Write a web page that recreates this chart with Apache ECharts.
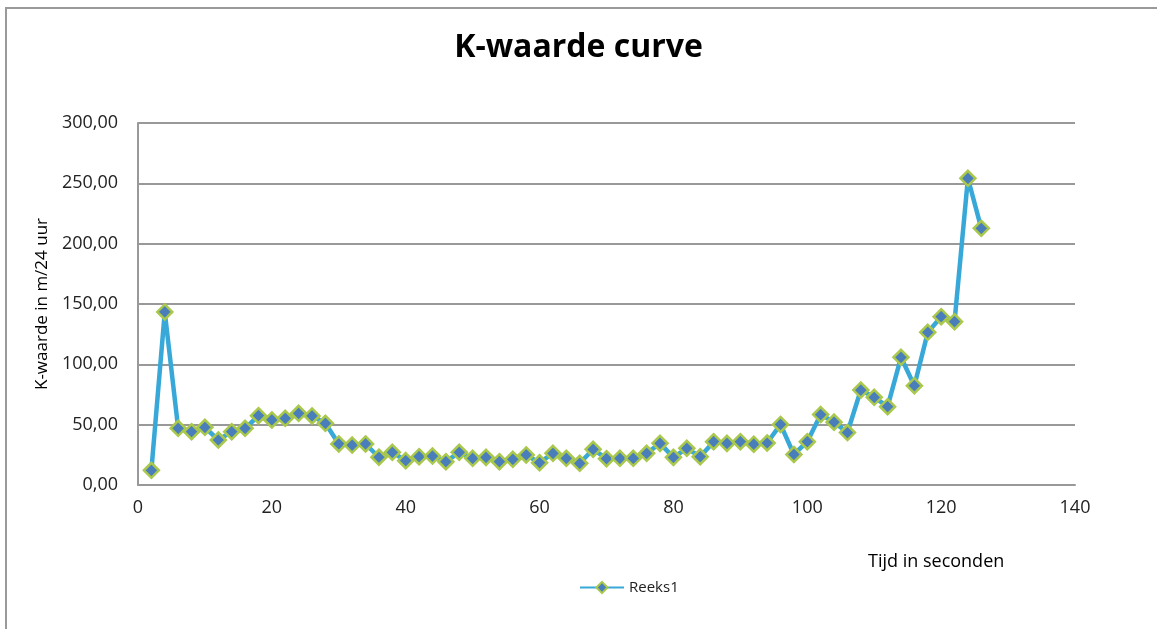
<!DOCTYPE html>
<html>
<head>
<meta charset="utf-8">
<script src="https://cdn.jsdelivr.net/npm/echarts@6/dist/echarts.min.js"></script>
<style>
  html, body { margin: 0; padding: 0; background: #fff; }
  #chart { width: 1157px; height: 629px; }
</style>
</head>
<body>
<div id="chart"></div>
<script>
// time in seconds
var tijd = [2, 4, 6, 8, 10, 12, 14, 16, 18, 20, 22, 24, 26, 28, 30, 32, 34, 36, 38, 40,
  42, 44, 46, 48, 50, 52, 54, 56, 58, 60, 62, 64, 66, 68, 70, 72, 74, 76, 78, 80,
  82, 84, 86, 88, 90, 92, 94, 96, 98, 100, 102, 104, 106, 108, 110, 112, 114, 116, 118, 120,
  122, 124, 126];
// K-waarde in m/24 uur
var kwaarde = [12.2, 143.4, 47.0, 44.2, 47.8, 37.3, 44.2, 47.0, 57.4, 53.9,
  55.3, 59.4, 57.2, 51.1, 34.0, 33.1, 34.0, 23.0, 27.1, 20.2,
  23.5, 24.0, 19.3, 27.1, 22.1, 22.9, 19.3, 21.3, 24.9, 18.5,
  26.3, 22.1, 18.0, 29.6, 21.8, 22.1, 22.1, 26.3, 34.5, 22.9,
  30.4, 23.5, 35.9, 34.5, 35.9, 33.8, 34.8, 50.2, 25.3, 35.9,
  58.4, 52.1, 43.5, 78.7, 72.7, 64.9, 105.8, 82.3, 126.5, 139.5,
  135.3, 254.2, 212.7];

var chart = echarts.init(document.getElementById('chart'));

var option = {
  backgroundColor: '#fff',
  animation: false,
  textStyle: { fontFamily: 'Open Sans' },
  title: {
    text: 'K-waarde curve',
    left: 'center',
    top: 27,
    textStyle: { fontSize: 32, fontWeight: 'bold', color: '#000', fontFamily: 'Open Sans' }
  },
  graphic: [
    {
      type: 'rect',
      silent: true,
      shape: { x: 6, y: 8, width: 1300, height: 800 },
      style: { fill: 'none', stroke: '#9a9a9a', lineWidth: 2 }
    },
    {
      type: 'text',
      left: 868,
      top: 553,
      style: { text: 'Tijd in seconden', fontSize: 18, fill: '#000', fontFamily: 'Open Sans' }
    }
  ],
  legend: {
    left: 574,
    top: 575,
    itemWidth: 44,
    itemHeight: 14,
    itemGap: 4,
    textStyle: { fontSize: 15, color: '#222', fontFamily: 'Open Sans' },
    data: ['Reeks1']
  },
  grid: {
    left: 138,
    right: 82,
    top: 123,
    bottom: 144,
    containLabel: false
  },
  xAxis: {
    type: 'value',
    min: 0,
    max: 140,
    interval: 20,
    axisLine: { show: true, lineStyle: { color: '#999', width: 2 } },
    axisTick: { show: false },
    splitLine: { show: false },
    axisLabel: { fontSize: 18, color: '#222', margin: 14 }
  },
  yAxis: {
    type: 'value',
    min: 0,
    max: 300,
    interval: 50,
    name: 'K-waarde in m/24 uur',
    nameLocation: 'middle',
    nameGap: 86,
    nameTextStyle: { fontSize: 17, color: '#000' },
    axisLine: { show: true, lineStyle: { color: '#999', width: 2 } },
    axisTick: { show: false },
    splitLine: { show: true, lineStyle: { color: '#999', width: 2 } },
    axisLabel: {
      fontSize: 18,
      color: '#222',
      margin: 20,
      formatter: function (v) { return v.toFixed(2).replace('.', ','); }
    }
  },
  series: [{
    name: 'Reeks1',
    type: 'line',
    data: tijd.map(function (t, i) { return [t, kwaarde[i]]; }),
    symbol: 'diamond',
    symbolSize: 15,
    showAllSymbol: true,
    lineStyle: { color: '#38a8d8', width: 4.5 },
    itemStyle: { color: '#4a7ebb', borderColor: '#a9c84c', borderWidth: 2.5 }
  }]
};

chart.setOption(option);
</script>
</body>
</html>
